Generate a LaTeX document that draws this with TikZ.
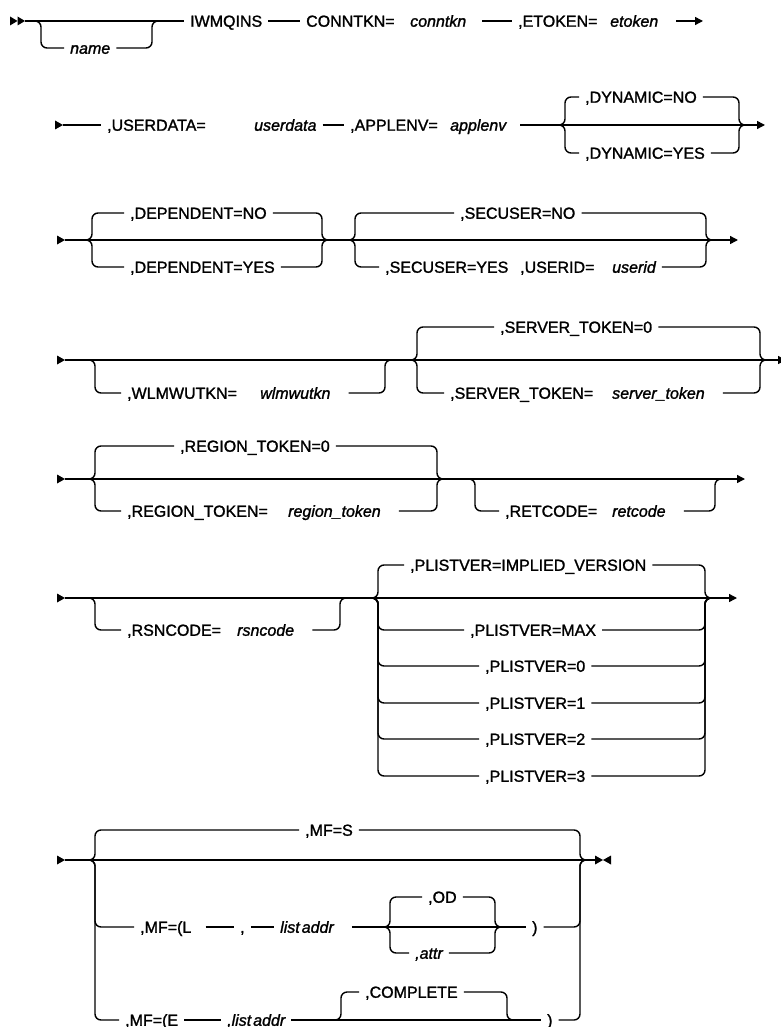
\documentclass[tikz,border=0pt]{standalone}
\usepackage{fontspec}
\setmainfont{Liberation Sans}[FakeBold=1.4]
\usetikzlibrary{arrows.meta}
\newcommand{\railstart}[1]{\fill (#1) -- ++(0,-4.5) -- ++(8,4.5) -- ++(-8,4.5) -- cycle;}
\begin{document}
\begin{tikzpicture}[x=1pt,y=-1pt,
  rail/.style={line width=1.4pt, rounded corners=6pt},
  tip/.style={-{Triangle[length=8pt,width=8pt]}},
  kw/.style={font=\fontsize{16}{19}\selectfont, inner xsep=6pt, inner ysep=0pt, text height=11.5pt, text depth=0pt, anchor=west},
  var/.style={kw, font=\fontsize{16}{19}\selectfont\itshape},
]
\useasboundingbox (0,0) rectangle (780,1027);

% ---------- Row 1 ----------
\coordinate (s1) at (10,21);
\fill (s1) -- ++(0,-4.5) -- ++(7.5,4.5) -- ++(-7.5,4.5) -- cycle;
\fill ([xshift=7.5pt]s1) -- ++(0,-4.5) -- ++(7.5,4.5) -- ++(-7.5,4.5) -- cycle;
\coordinate (s1e) at (25,21);
\node[kw] (iwm) at (184,21) {IWMQINS};
\draw[rail] (s1e) -- (iwm.west);
\coordinate (n1L) at (41,21); \coordinate (n1R) at (152,21);
\node[var] (name) at (64,48) {name};
\draw[rail] ([xshift=-8pt]n1L) -- (n1L) |- (name.west);
\draw[rail] (name.east) -| (n1R) -- ([xshift=8pt]n1R);
\node[kw] (conn) at (300,21) {CONNTKN=};
\draw[rail] (iwm.east) -- (conn.west);
\node[var] (connv) at (404,21) {conntkn};
\node[kw] (etok) at (512,21) {,ETOKEN=};
\draw[rail] ([xshift=10pt]connv.east) -- (etok.west);
\node[var] (etokv) at (604,21) {etoken};
\coordinate (e1) at (703,21);
\draw[rail,tip] ([xshift=12pt]etokv.east) -- (e1);

% ---------- Row 2 ----------
\coordinate (s2) at (55,125);
\railstart{s2}
\node[kw] (ud) at (101,125) {,USERDATA=};
\draw[rail] ([xshift=8pt]s2) -- (ud.west);
\node[var] (udv) at (248,125) {userdata};
\node[kw] (ap) at (344,125) {,APPLENV=};
\draw[rail] (udv.east) -- (ap.west);
\node[var] (apv) at (444,125) {applenv};
\coordinate (c2L) at (565,125); \coordinate (c2R) at (739,125); \coordinate (e2) at (765,125);
\draw[rail,tip] ([xshift=8pt]apv.east) -- (e2);
\node[kw] (dno) at (579,97) {,DYNAMIC=NO};
\node[kw] (dyes) at (579,153) {,DYNAMIC=YES};
\draw[rail] ([xshift=-8pt]c2L) -- (c2L) |- (dno.west);
\draw[rail] (dno.east) -| (c2R) -- ([xshift=8pt]c2R);
\draw[rail] ([xshift=-8pt]c2L) -- (c2L) |- (dyes.west);
\draw[rail] (dyes.east) -| (c2R) -- ([xshift=8pt]c2R);

% ---------- Row 3 ----------
\coordinate (s3) at (57,240);
\railstart{s3}
\coordinate (e3) at (738,240);
\draw[rail,tip] ([xshift=8pt]s3) -- (e3);
\coordinate (aL) at (92,240); \coordinate (aR) at (322,240);
\node[kw] (dpno) at (124,213) {,DEPENDENT=NO};
\node[kw] (dpyes) at (124,267) {,DEPENDENT=YES};
\draw[rail] ([xshift=-8pt]aL) -- (aL) |- (dpno.west);
\draw[rail] (dpno.east) -| (aR) -- ([xshift=8pt]aR);
\draw[rail] ([xshift=-8pt]aL) -- (aL) |- (dpyes.west);
\draw[rail] (dpyes.east) -| (aR) -- ([xshift=8pt]aR);
\coordinate (bL) at (355,240); \coordinate (bR) at (706,240);
\node[kw] (secno) at (454,213) {,SECUSER=NO};
\node[kw] (secyes) at (379,267) {,SECUSER=YES};
\node[kw] (uid) at (514,267) {,USERID=};
\node[var] (uidv) at (606,267) {userid};
\draw[rail] ([xshift=-8pt]bL) -- (bL) |- (secno.west);
\draw[rail] (secno.east) -| (bR) -- ([xshift=8pt]bR);
\draw[rail] ([xshift=-8pt]bL) -- (bL) |- (secyes.west);
\draw[rail] (uidv.east) -| (bR) -- ([xshift=8pt]bR);

% ---------- Row 4 ----------
\coordinate (s4) at (57,360);
\railstart{s4}
\coordinate (e4) at (786,360);
\draw[rail,tip] ([xshift=8pt]s4) -- (e4);
\coordinate (wL) at (95,360); \coordinate (wR) at (385,360);
\node[kw] (wl) at (121,393) {,WLMWUTKN=};
\node[var] (wlv) at (254,393) {wlmwutkn};
\draw[rail] ([xshift=-8pt]wL) -- (wL) |- (wl.west);
\draw[rail] ([xshift=12pt]wlv.east) -| (wR) -- ([xshift=8pt]wR);
\coordinate (sL) at (417,360); \coordinate (sR) at (760,360);
\node[kw] (st0) at (494,327) {,SERVER\_TOKEN=0};
\node[kw] (stk) at (444,393) {,SERVER\_TOKEN=};
\node[var] (stkv) at (606,393) {server\_token};
\draw[rail] ([xshift=-8pt]sL) -- (sL) |- (st0.west);
\draw[rail] (st0.east) -| (sR) -- ([xshift=8pt]sR);
\draw[rail] ([xshift=-8pt]sL) -- (sL) |- (stk.west);
\draw[rail] ([xshift=12pt]stkv.east) -| (sR) -- ([xshift=8pt]sR);

% ---------- Row 5 ----------
\coordinate (s5) at (57,479);
\railstart{s5}
\coordinate (e5) at (745,479);
\draw[rail,tip] ([xshift=8pt]s5) -- (e5);
\coordinate (rL) at (95,479); \coordinate (rR) at (437,479);
\node[kw] (rt0) at (174,446) {,REGION\_TOKEN=0};
\node[kw] (rtk) at (121,511) {,REGION\_TOKEN=};
\node[var] (rtkv) at (282,511) {region\_token};
\draw[rail] ([xshift=-8pt]rL) -- (rL) |- (rt0.west);
\draw[rail] (rt0.east) -| (rR) -- ([xshift=8pt]rR);
\draw[rail] ([xshift=-8pt]rL) -- (rL) |- (rtk.west);
\draw[rail] ([xshift=12pt]rtkv.east) -| (rR) -- ([xshift=8pt]rR);
\coordinate (cL) at (475,479); \coordinate (cR) at (715,479);
\node[kw] (rc) at (499,511) {,RETCODE=};
\node[var] (rcv) at (606,511) {retcode};
\draw[rail] ([xshift=-8pt]cL) -- (cL) |- (rc.west);
\draw[rail] ([xshift=12pt]rcv.east) -| (cR) -- ([xshift=8pt]cR);

% ---------- Row 6 ----------
\coordinate (s6) at (57,598);
\railstart{s6}
\coordinate (e6) at (737,598);
\draw[rail,tip] ([xshift=8pt]s6) -- (e6);
\coordinate (qL) at (95,598); \coordinate (qR) at (340,598);
\node[kw] (rs) at (121,630) {,RSNCODE=};
\node[var] (rsv) at (231,630) {rsncode};
\draw[rail] ([xshift=-8pt]qL) -- (qL) |- (rs.west);
\draw[rail] ([xshift=12pt]rsv.east) -| (qR) -- ([xshift=8pt]qR);
\coordinate (pL) at (378,598); \coordinate (pR) at (705,598);
\node[kw] (pimp) at (404,565) {,PLISTVER=IMPLIED\_VERSION};
\node[kw] (pmax) at (464,630) {,PLISTVER=MAX};
\node[kw] (pz) at (479,666) {,PLISTVER=0};
\node[kw] (po) at (479,703) {,PLISTVER=1};
\node[kw] (pt) at (479,739) {,PLISTVER=2};
\node[kw] (pth) at (479,776) {,PLISTVER=3};
\foreach \n in {pimp,pmax,pz,po,pt,pth}{
  \draw[rail] ([xshift=-8pt]pL) -- (pL) |- (\n.west);
  \draw[rail] (\n.east) -| (pR) -- ([xshift=8pt]pR);
}

% ---------- Row 7 ----------
\coordinate (s7) at (57,860);
\railstart{s7}
\coordinate (e7) at (595,860);
\draw[rail] ([xshift=8pt]s7) -- (e7);
\fill (e7) -- ++(0,-4.5) -- ++(8,4.5) -- ++(-8,4.5) -- cycle;
\fill ([xshift=16pt]e7) -- ++(0,-4.5) -- ++(-8,4.5) -- ++(8,4.5) -- cycle;
\coordinate (mL) at (95,860); \coordinate (mR) at (580,860);
\node[kw] (mfs) at (299,830) {,MF=S};
\draw[rail] ([xshift=-8pt]mL) -- (mL) |- (mfs.west);
\draw[rail] (mfs.east) -| (mR) -- ([xshift=8pt]mR);
% MF=(L
\node[kw] (mfl) at (134,927) {,MF=(L};
\node[kw] (cm) at (234,927) {,};
\node[var] (la) at (274,927) {list\hspace{2pt}addr};
\node[kw] (pl) at (526,927) {)};
\draw[rail] ([xshift=-8pt]mL) -- (mL) |- (mfl.west);
\draw[rail] ([xshift=8pt]mfl.east) -- (cm.west);
\draw[rail] (cm.east) -- (la.west);
\draw[rail] ([xshift=12pt]la.east) -- (pl.west);
\draw[rail] (pl.east) -| (mR) -- ([xshift=8pt]mR);
\coordinate (oL) at (390,927); \coordinate (oR) at (495,927);
\node[kw] (od) at (422,897) {,OD};
\node[var] (attr) at (409,953) {,attr};
\draw[rail] ([xshift=-8pt]oL) -- (oL) |- (od.west);
\draw[rail] (od.east) -| (oR) -- ([xshift=8pt]oR);
\draw[rail] ([xshift=-8pt]oL) -- (oL) |- (attr.west);
\draw[rail] (attr.east) -| (oR) -- ([xshift=8pt]oR);
% MF=(E
\node[kw] (mfe) at (119,1020) {,MF=(E};
\node[var] (la2) at (221,1020) {,list\hspace{2pt}addr};
\node[kw] (pe) at (541,1020) {)};
\draw[rail] ([xshift=-8pt]mL) -- (mL) |- (mfe.west);
\draw[rail] (mfe.east) -- (la2.west);
\draw[rail] (la2.east) -- (pe.west);
\draw[rail] (pe.east) -| (mR) -- ([xshift=8pt]mR);
\coordinate (kL) at (341,1020); \coordinate (kR) at (507,1020);
\node[kw] (cmp) at (359,992) {,COMPLETE};
\draw[rail] ([xshift=-8pt]kL) -- (kL) |- (cmp.west);
\draw[rail] (cmp.east) -| (kR) -- ([xshift=8pt]kR);
\end{tikzpicture}
\end{document}
